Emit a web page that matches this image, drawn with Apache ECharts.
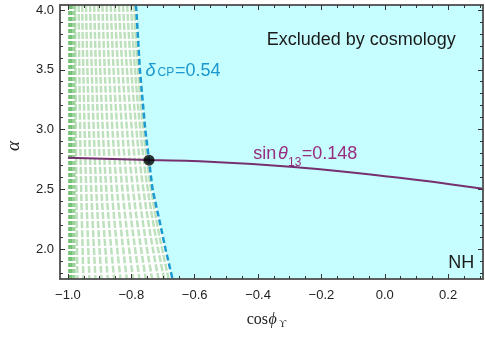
<!DOCTYPE html>
<html><head><meta charset="utf-8">
<script src="https://cdn.jsdelivr.net/npm/echarts@6/dist/echarts.min.js"></script>
<style>html,body{margin:0;padding:0;background:#fff}#c{width:485px;height:339px}</style>
</head><body><div id="c"></div>
<script>
// ---------- data ----------
const xMin = -1.025, xMax = 0.31, yMin = 1.75, yMax = 4.042;
const xMajorTicks = [-1.0, -0.8, -0.6, -0.4, -0.2, 0.0, 0.2];
const xMinorTicks = [-1.0, -0.95, -0.9, -0.85, -0.8, -0.75, -0.7, -0.65, -0.6, -0.55, -0.5, -0.45, -0.4, -0.35, -0.3, -0.25, -0.2, -0.15, -0.1, -0.05, 0.0, 0.05, 0.1, 0.15, 0.2, 0.25, 0.3];
const yMajorTicks = [2.0, 2.5, 3.0, 3.5, 4.0];
const yMinorTicks = [1.8, 1.9, 2.0, 2.1, 2.2, 2.3, 2.4, 2.5, 2.6, 2.7, 2.8, 2.9, 3.0, 3.1, 3.2, 3.3, 3.4, 3.5, 3.6, 3.7, 3.8, 3.9, 4.0];

// delta_CP = 0.54 boundary (cyan region to its right)
const deltaCurveAlpha = [4.042, 4.0, 3.5, 3.0, 2.744, 2.5, 2.25, 2.0, 1.75];
const deltaCurveX     = [-0.786, -0.784, -0.773, -0.756, -0.744, -0.733, -0.712, -0.692, -0.670];

// sin(theta13) = 0.148 contour
const theta13X     = [-1.0, -0.744, -0.584, -0.27, 0.046, 0.2, 0.31];
const theta13Alpha = [2.764, 2.745, 2.736, 2.683, 2.597, 2.545, 2.505];

// intersection point
const pointX = [-0.744], pointAlpha = [2.744];

// green dashed contours (x at three alpha levels)
const hatchAlpha = [4.042, 2.75, 1.75];
const hatchTopX = [-0.977, -0.966, -0.955, -0.943, -0.930, -0.917, -0.904, -0.891, -0.878, -0.865, -0.852, -0.839, -0.826, -0.813, -0.801, -0.791];
const hatchMidX = [-0.974, -0.960, -0.945, -0.930, -0.915, -0.900, -0.885, -0.869, -0.853, -0.837, -0.821, -0.805, -0.789, -0.774, -0.761, -0.751];
const hatchBotX = [-0.970, -0.951, -0.932, -0.913, -0.894, -0.874, -0.854, -0.834, -0.814, -0.794, -0.774, -0.754, -0.734, -0.714, -0.696, -0.682];
const darkHatchX = [-0.996, -0.990, -0.984, -0.979];

// ---------- chart ----------
const fmt = v => (v < 0 ? '\u2212' : '') + Math.abs(v).toFixed(1);
const axisColor = '#555';
const lblStyle = {fontFamily: 'Liberation Sans', fontSize: 13, color: '#222'};

function xAx(pos, ticks, len, labels) {
  return {type: 'value', min: xMin, max: xMax, position: pos, z: 10,
    axisLine: {show: true, onZero: false, lineStyle: {color: axisColor, width: 1.5}},
    axisTick: {show: true, inside: true, length: len, customValues: ticks, lineStyle: {color: '#333', width: 1}},
    axisLabel: labels ? Object.assign({customValues: xMajorTicks, formatter: fmt, margin: 10}, lblStyle) : {show: false},
    splitLine: {show: false}};
}
function yAx(pos, ticks, len, labels) {
  return {type: 'value', min: yMin, max: yMax, position: pos, z: 10,
    axisLine: {show: true, onZero: false, lineStyle: {color: axisColor, width: 1.5}},
    axisTick: {show: true, inside: true, length: len, customValues: ticks, lineStyle: {color: '#333', width: 1}},
    axisLabel: labels ? Object.assign({customValues: yMajorTicks, formatter: v => v.toFixed(1), margin: 6}, lblStyle) : {show: false},
    splitLine: {show: false}};
}

const series = [];
series.push({
  type: 'custom', xAxisIndex: 0, yAxisIndex: 0, silent: true, z: 1, data: [0],
  renderItem: (params, api) => {
    const pts = deltaCurveX.map((x, i) => api.coord([x, deltaCurveAlpha[i]]));
    pts.push(api.coord([xMax, yMin]));
    pts.push(api.coord([xMax, yMax]));
    return {type: 'polygon', shape: {points: pts}, style: {fill: '#c6fdfe'}};
  }
});
hatchTopX.forEach((t, i) => {
  series.push({type: 'line', smooth: true, symbol: 'none', silent: true, z: 2,
    data: [[t, hatchAlpha[0]], [hatchMidX[i], hatchAlpha[1]], [hatchBotX[i], hatchAlpha[2]]],
    lineStyle: {color: '#bde1bd', width: 2.5, type: [7, 2]}});
});
darkHatchX.forEach((x, i) => {
  series.push({type: 'line', symbol: 'none', silent: true, z: 2,
    data: [[x, yMax], [x, yMin]],
    lineStyle: {color: i < 2 ? '#72c072' : '#9ad29a', width: 2, type: [4, 2]}});
});
series.push({type: 'line', symbol: 'none', silent: true, z: 3,
  data: deltaCurveX.map((x, i) => [x, deltaCurveAlpha[i]]),
  lineStyle: {color: '#1b9ad1', width: 2.5, type: [6, 3]}});
series.push({type: 'line', symbol: 'none', smooth: true, silent: true, z: 4,
  data: theta13X.map((x, i) => [x, theta13Alpha[i]]),
  lineStyle: {color: '#76306f', width: 2}});
series.push({type: 'scatter', symbol: 'circle', symbolSize: 11, silent: true, z: 5,
  data: pointX.map((x, i) => [x, pointAlpha[i]]),
  itemStyle: {color: '#000'}});

function txt(x, y, text, size, color, extra) {
  return Object.assign({type: 'text', x: x, y: y, z: 100,
    style: Object.assign({text: text, fontSize: size, fontFamily: 'Liberation Sans', fill: color,
      align: 'left', verticalAlign: 'middle'}, extra || {})});
}
const blue = '#1a98cf', purple = '#982c7e';
const graphic = [
  txt(266.7, 40.5, 'Excluded by cosmology', 18, '#1a1a1a'),
  txt(448.3, 262.8, 'NH', 18, '#1a1a1a'),
  txt(145.5, 71, 'δ', 18, blue, {fontStyle: 'italic'}),
  txt(157.5, 72.9, 'CP', 12, blue),
  txt(175, 71, '=0.54', 18, blue),
  txt(253.3, 154.2, 'sin', 18, purple),
  txt(278, 154.2, 'θ', 18, purple, {fontStyle: 'italic'}),
  txt(288, 162.3, '13', 12, purple),
  txt(301.7, 154.2, '=0.148', 18, purple),
  txt(246.7, 319.6, 'cos', 16, '#222', {fontFamily: 'Liberation Serif'}),
  txt(268.5, 319.6, 'ϕ', 16, '#222', {fontFamily: 'Liberation Serif', fontStyle: 'italic'}),
  txt(279, 324.6, 'ϒ', 10, '#222', {fontFamily: 'Liberation Serif'}),
  {type: 'text', x: 13.5, y: 146, rotation: Math.PI / 2, z: 100,
    style: {text: 'α', fontSize: 19, fontFamily: 'Liberation Serif', fontStyle: 'italic', fill: '#222', align: 'center', verticalAlign: 'middle'}}
];

const chart = echarts.init(document.getElementById('c'), null, {renderer: 'canvas'});
chart.setOption({
  animation: false,
  backgroundColor: '#fff',
  grid: {left: 60, right: 2, top: 5, bottom: 60, containLabel: false},
  xAxis: [xAx('bottom', xMajorTicks, 5, true), xAx('bottom', xMinorTicks, 3, false),
          xAx('top', xMajorTicks, 5, false), xAx('top', xMinorTicks, 3, false)],
  yAxis: [yAx('left', yMajorTicks, 5, true), yAx('left', yMinorTicks, 3, false),
          yAx('right', yMajorTicks, 5, false), yAx('right', yMinorTicks, 3, false)],
  series: series,
  graphic: graphic
});
</script></body></html>
